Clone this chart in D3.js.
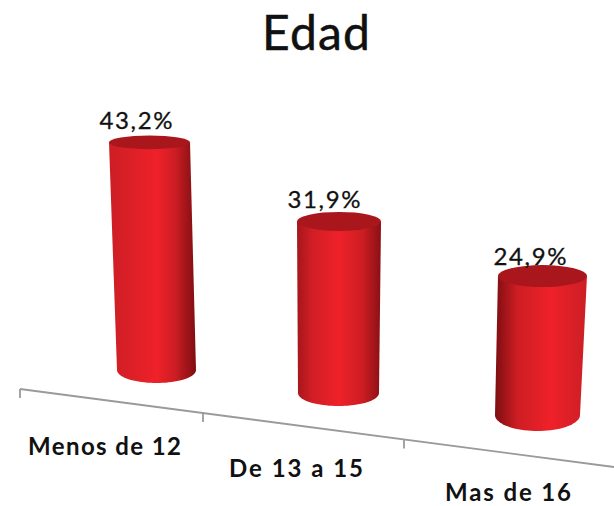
<!DOCTYPE html>
<html><head><meta charset="utf-8">
<script src="https://cdn.jsdelivr.net/npm/d3@7"></script>
<style>html,body{margin:0;padding:0;background:#fff}svg{display:block}text{fill:#111;font-family:Lato,"Noto Sans",sans-serif}</style>
</head><body><div id="c"></div>
<script>
const title = "Edad";
const categories = ["Menos de 12", "De 13 a 15", "Mas de 16"];
const values = [43.2, 31.9, 24.9];
const valueLabels = ["43,2%", "31,9%", "24,9%"];

const W = 614, H = 506;
const idx = [0, 1, 2];
// perspective of the fake-3D scene, by category position
const baseX = d3.scaleLinear().domain(idx).range([156.5, 338.5, 537.5]);
const baseY = d3.scaleLinear().domain(idx).range([370, 393, 415]);
const baseHalf = d3.scaleLinear().domain(idx).range([39.5, 40.5, 42.5]);
const baseRy = d3.scaleLinear().domain(idx).range([13, 13, 16]);
const unitH = d3.scaleLinear().domain(idx).range([5.27, 5.38, 5.58]);
const lean = d3.scaleLinear().domain(idx).range([-0.162, 0.016, 0.2]);
const topHalf = d3.scaleLinear().domain(idx).range([40.5, 42, 44.5]);
const topRy = d3.scaleLinear().domain(idx).range([6.8, 9.5, 11]);
const labelDx = d3.scaleLinear().domain(idx).range([-13.5, -15, -12.5]);
const labelDy = d3.scaleLinear().domain(idx).range([-7, -4, 0]);
// axis
const tickX = d3.scaleLinear().domain([0, 1, 2, 3]).range([20, 203, 404, 620]);
const axisY = d3.scaleLinear().domain([20, 614]).range([389, 467]);
const catCentre = [104.5, 296, 508], catBase = [455, 477, 500.5], catLen = [153, 134, 126];
const shades = [
  [[0, "#cc1e25"], [.55, "#ef2129"], [.76, "#cc1d23"], [1, "#7d0e11"]],
  [[0, "#a5161b"], [.18, "#d01e25"], [.5, "#ef2129"], [.78, "#cc1d23"], [1, "#8a1014"]],
  [[0, "#7d0e11"], [.24, "#cc1d23"], [.6, "#ef2129"], [1, "#cc1e25"]]
];

const svg = d3.select("#c").append("svg").attr("width", W).attr("height", H);
const defs = svg.append("defs");

svg.append("text").attr("x", 316).attr("y", 50).attr("text-anchor", "middle")
  .attr("font-size", 48).attr("textLength", 108).attr("stroke", "#111").attr("stroke-width", 0.5).text(title);

// axis line and ticks
svg.append("line").attr("x1", 20).attr("y1", axisY(20)).attr("x2", 614).attr("y2", axisY(614))
  .attr("stroke", "#9a9a9a").attr("stroke-width", 1.8);
svg.selectAll(".tick").data([0, 1, 2]).join("line").attr("class", "tick")
  .attr("x1", d => tickX(d)).attr("x2", d => tickX(d))
  .attr("y1", d => axisY(tickX(d))).attr("y2", d => axisY(tickX(d)) + 9)
  .attr("stroke", "#9a9a9a").attr("stroke-width", 1.8);

values.forEach((v, i) => {
  const bx = baseX(i), by = baseY(i), bh = baseHalf(i), bry = baseRy(i);
  const tx = bx + lean(i) * v, ty = by - unitH(i) * v, th = topHalf(i), try_ = topRy(i);
  const gid = "g" + i;
  const g = defs.append("linearGradient").attr("id", gid).attr("gradientUnits", "userSpaceOnUse")
    .attr("x1", Math.min(tx - th, bx - bh)).attr("x2", Math.max(tx + th, bx + bh)).attr("y1", 0).attr("y2", 0);
  shades[i].forEach(s => g.append("stop").attr("offset", s[0]).attr("stop-color", s[1]));
  const p = d3.path();
  p.moveTo(tx - th, ty);
  p.lineTo(bx - bh, by);
  // lower half of the base ellipse
  const n = 40;
  d3.range(1, n + 1).forEach(k => {
    const a = Math.PI - Math.PI * k / n;
    p.lineTo(bx + bh * Math.cos(a), by + bry * Math.sin(a));
  });
  p.lineTo(tx + th, ty);
  p.closePath();
  svg.append("path").attr("d", p.toString()).attr("fill", `url(#${gid})`);
  svg.append("ellipse").attr("cx", tx).attr("cy", ty).attr("rx", th).attr("ry", try_).attr("fill", "#a9171c");
  svg.append("text").attr("x", tx + labelDx(i)).attr("y", ty - try_ + labelDy(i))
    .attr("text-anchor", "middle").attr("font-size", 24).attr("textLength", 73)
    .attr("stroke", "#111").attr("stroke-width", 0.3).text(valueLabels[i]);
  svg.append("text").attr("x", catCentre[i]).attr("y", catBase[i]).attr("text-anchor", "middle")
    .attr("font-size", 24).attr("font-weight", 700).attr("textLength", catLen[i]).text(categories[i]);
});
</script></body></html>
